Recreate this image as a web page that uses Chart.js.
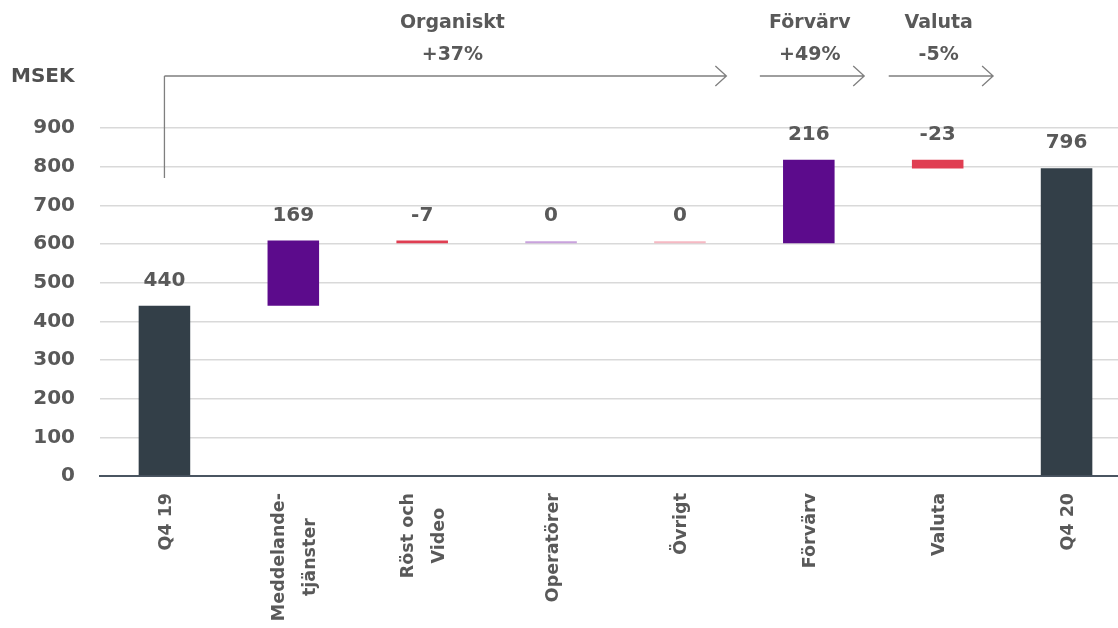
<!DOCTYPE html>
<html>
<head>
<meta charset="utf-8">
<script src="https://cdn.jsdelivr.net/npm/chart.js@4"></script>
<style>
  html, body { margin: 0; padding: 0; background: #fff; overflow: hidden; }
  #wrap { position: relative; width: 1132px; height: 628px; }
</style>
</head>
<body>
<div id="wrap"><canvas id="chart"></canvas></div>
<script>
// Waterfall data (MSEK)
const categories = ["Q4 19", ["Meddelande-", "tjänster"], ["Röst och", "Video"], "Operatörer", "Övrigt", "Förvärv", "Valuta", "Q4 20"];
const values = [440, 169, -7, 0, 0, 216, -23, 796];
const isTotal = [true, false, false, false, false, false, false, true];
const valueLabels = ["440", "169", "-7", "0", "0", "216", "-23", "796"];

// Bridge annotations over the top
const groupNames = ["Organiskt", "Förvärv", "Valuta"];
const groupChanges = ["+37%", "+49%", "-5%"];
const groupFrom = [0, 5, 6];
const groupTo = [4, 5, 6];

const yTicks = [0, 100, 200, 300, 400, 500, 600, 700, 800, 900];

const barColors = ["#333f48", "#5c0b8c", "#e03e52", "#c9a2dd", "#f6b9c3", "#5c0b8c", "#e03e52", "#333f48"];
const FONT = "'DejaVu Sans', sans-serif";
const GRAY = "#595959";

// build floating bars from running total
let running = 0;
const bars = values.map((v, i) => {
    if (isTotal[i]) {
        running = v;
        return [0, v];
    }
    const start = running;
    running += v;
    return [start, running];
});

const labelsPlugin = {
    id: "labels",
    afterDatasetsDraw(chart) {
        const ctx = chart.ctx;
        const meta = chart.getDatasetMeta(0);
        ctx.save();
        ctx.fillStyle = GRAY;
        ctx.font = "bold 20px " + FONT;
        ctx.textAlign = "center";
        ctx.textBaseline = "middle";
        meta.data.forEach((bar, i) => {
            const top = Math.min(bar.y, bar.base);
            ctx.fillText(valueLabels[i], bar.x, top - 25);
        });
        ctx.restore();
    },
    afterDraw(chart) {
        const ctx = chart.ctx;
        const x = chart.scales.x;
        const top = chart.chartArea.top;
        const bottom = chart.chartArea.bottom;
        const arrowY = top - 52;
        const step = x.getPixelForValue(1) - x.getPixelForValue(0);

        ctx.save();

        // category labels, rotated, lines centred on each other
        ctx.fillStyle = GRAY;
        ctx.font = "bold 17.5px " + FONT;
        ctx.textAlign = "center";
        ctx.textBaseline = "middle";
        categories.forEach((cat, i) => {
            const lines = Array.isArray(cat) ? cat : [cat];
            const w = Math.max(...lines.map(l => ctx.measureText(l).width));
            ctx.save();
            ctx.translate(x.getPixelForValue(i) + 2, bottom + 17);
            ctx.rotate(-Math.PI / 2);
            lines.forEach((l, k) => {
                ctx.fillText(l, -w / 2, (k - (lines.length - 1) / 2) * 31);
            });
            ctx.restore();
        });

        // "MSEK" axis title
        ctx.fillStyle = "#505050";
        ctx.font = "bold 20px " + FONT;
        ctx.textAlign = "left";
        ctx.fillText("MSEK", 11, 77);

        ctx.strokeStyle = "#7f7f7f";
        ctx.lineWidth = 1.3;
        groupNames.forEach((name, g) => {
            let x0, x1, cx;
            if (groupFrom[g] !== groupTo[g]) {
                x0 = x.getPixelForValue(groupFrom[g]);
                x1 = x.getPixelForValue(groupTo[g]) + step / 2 - 18;
                cx = (x0 + x1) / 2 + 7;
                // vertical leg down from the starting bar
                ctx.beginPath();
                ctx.moveTo(x0, top + 50);
                ctx.lineTo(x0, arrowY);
                ctx.stroke();
            } else {
                const c = x.getPixelForValue(groupFrom[g]);
                x0 = c - step * 0.38;
                x1 = c + step * 0.43;
                cx = c + 1;
            }
            ctx.beginPath();
            ctx.moveTo(x0, arrowY);
            ctx.lineTo(x1, arrowY);
            ctx.moveTo(x1 - 11, arrowY - 10);
            ctx.lineTo(x1, arrowY);
            ctx.lineTo(x1 - 11, arrowY + 10);
            ctx.stroke();

            ctx.fillStyle = GRAY;
            ctx.font = "bold 19px " + FONT;
            ctx.textAlign = "center";
            ctx.fillText(name, cx, 23);
            ctx.fillText(groupChanges[g], cx, 55);
        });
        ctx.restore();
    }
};

new Chart(document.getElementById("chart"), {
    type: "bar",
    data: {
        labels: categories,
        datasets: [{
            data: bars,
            backgroundColor: barColors,
            barPercentage: 0.4,
            categoryPercentage: 1,
            minBarLength: 2
        }]
    },
    options: {
        responsive: true,
        maintainAspectRatio: false,
        animation: false,
        devicePixelRatio: 1,
        layout: { padding: { top: 128, left: 0, right: 1, bottom: 0 } },
        plugins: {
            legend: { display: false },
            tooltip: { enabled: false }
        },
        scales: {
            x: {
                grid: { display: false, drawTicks: false },
                border: { display: true, color: "#4a5561", width: 2 },
                ticks: { display: false },
                afterFit(scale) { scale.height = 152; }
            },
            y: {
                min: 0,
                max: 900,
                afterBuildTicks(scale) { scale.ticks = yTicks.map(v => ({ value: v })); },
                grid: { color: "#d9d9d9", lineWidth: 1.5, drawTicks: false },
                border: { display: false },
                ticks: {
                    color: GRAY,
                    font: { family: FONT, size: 20, weight: "bold" },
                    padding: 25
                },
                afterFit(scale) { scale.width = 100; }
            }
        }
    },
    plugins: [labelsPlugin]
});
</script>
</body>
</html>
